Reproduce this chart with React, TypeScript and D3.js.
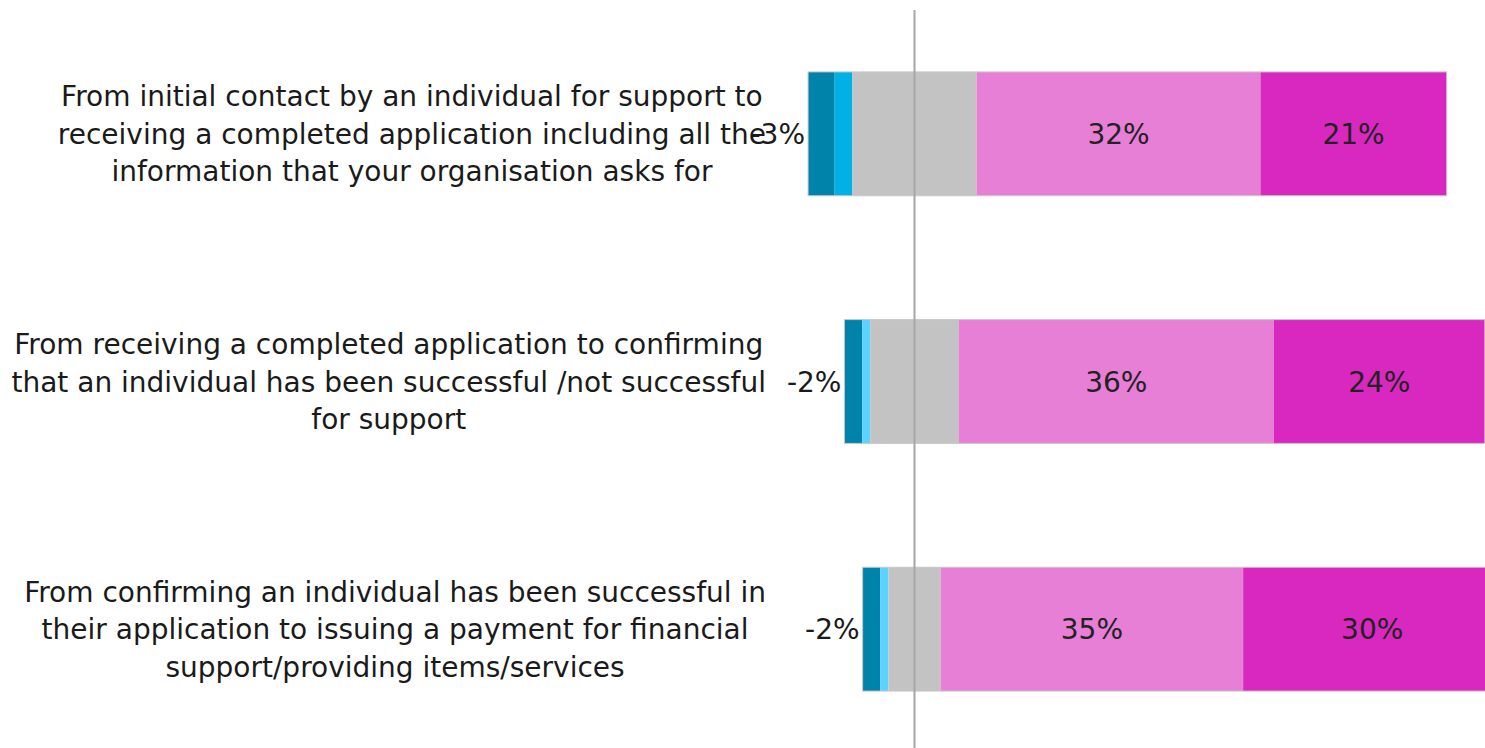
import React, { useLayoutEffect, useRef } from "react";
import * as d3 from "d3";

const categories: string[][] = [
  [
    "From initial contact by an individual for support to",
    "receiving a completed application including all the",
    "information that your organisation asks for",
  ],
  [
    "From receiving a completed application to confirming",
    "that an individual has been successful /not successful",
    "for support",
  ],
  [
    "From confirming an individual has been successful in",
    "their application to issuing a payment for financial",
    "support/providing items/services",
  ],
];

const veryNeg = [3, 2, 2];
const neg = [2, 0.9, 0.9];
const neutral = [14, 10, 5.9];
const pos = [32, 35.5, 34.1];
const veryPos = [21, 23.8, 29.1];

const negLabels = ["-3%", "-2%", "-2%"];
const posLabels = ["32%", "36%", "35%"];
const veryPosLabels = ["21%", "24%", "30%"];

const colVeryNeg = "#0083AB";
const colNeg = ["#00B0E6", "#5AD3FF", "#5AD3FF"];
const colNeutral = "#C3C3C3";
const colPos = "#E77FD7";
const colVeryPos = "#D928BF";

const W = 1485;
const H = 748;
const FONT = "'DejaVu Sans', Verdana, sans-serif";

export default function App() {
  const ref = useRef<SVGSVGElement>(null);

  const x = d3.scaleLinear().domain([-10, 60]).range([825.8, 1446.7]);
  const y = d3
    .scaleBand<number>()
    .domain(d3.range(categories.length))
    .range([10, 753])
    .paddingInner(0.5)
    .paddingOuter(0.25);
  const bw = y.bandwidth();
  const labelRight = 766;
  const lineH = 37.5;

  useLayoutEffect(() => {
    if (!ref.current) return;
    const svg = d3.select(ref.current);
    svg.selectAll<SVGGElement, unknown>("g.cat").each(function () {
      const g = d3.select(this);
      let maxW = 0;
      g.selectAll<SVGTextElement, unknown>("text").each(function () {
        maxW = Math.max(maxW, this.getComputedTextLength());
      });
      g.selectAll("text").attr("x", labelRight - maxW / 2);
    });
  }, []);

  return (
    <svg
      ref={ref}
      width={W}
      height={H}
      style={{ position: "absolute", left: 0, top: 0, background: "#fff" }}
    >
      {categories.map((lines, i) => {
        const cy = (y(i) as number) + bw / 2;
        const top = y(i) as number;
        const s0 = -(neutral[i] / 2 + neg[i] + veryNeg[i]);
        const s1 = s0 + veryNeg[i];
        const s2 = s1 + neg[i];
        const s3 = s2 + neutral[i];
        const s4 = s3 + pos[i];
        const s5 = s4 + veryPos[i];
        const segs = [
          { a: s0, b: s1, c: colVeryNeg },
          { a: s1, b: s2, c: colNeg[i] },
          { a: s2, b: s3, c: colNeutral },
          { a: s3, b: s4, c: colPos },
          { a: s4, b: s5, c: colVeryPos },
        ];
        return (
          <g key={i}>
            <g className="cat">
              {lines.map((t, j) => (
                <text
                  key={j}
                  x={labelRight}
                  y={cy + (j - (lines.length - 1) / 2) * lineH}
                  dy="0.36em"
                  textAnchor="middle"
                  fontFamily={FONT}
                  fontSize={28}
                  fill="#1a1a1a"
                >
                  {t}
                </text>
              ))}
            </g>
            {segs.map((s, k) => (
              <rect
                key={k}
                x={x(s.a)}
                y={top}
                width={x(s.b) - x(s.a)}
                height={bw}
                fill={s.c}
              />
            ))}
            <rect
              x={x(s0)}
              y={top}
              width={x(s5) - x(s0)}
              height={bw}
              fill="none"
              stroke="#c8c8c8"
              strokeWidth={1}
            />
            <text
              x={x(s0) - 3}
              y={cy}
              dy="0.36em"
              textAnchor="end"
              fontFamily={FONT}
              fontSize={28}
              fill="#1a1a1a"
            >
              {negLabels[i]}
            </text>
            <text
              x={(x(s3) + x(s4)) / 2}
              y={cy}
              dy="0.36em"
              textAnchor="middle"
              fontFamily={FONT}
              fontSize={28}
              fill="#222"
            >
              {posLabels[i]}
            </text>
            <text
              x={(x(s4) + x(s5)) / 2}
              y={cy}
              dy="0.36em"
              textAnchor="middle"
              fontFamily={FONT}
              fontSize={28}
              fill="#222"
            >
              {veryPosLabels[i]}
            </text>
          </g>
        );
      })}
      <line
        x1={x(0)}
        x2={x(0)}
        y1={10}
        y2={H}
        stroke="#a6a6a6"
        strokeWidth={2}
      />
    </svg>
  );
}
